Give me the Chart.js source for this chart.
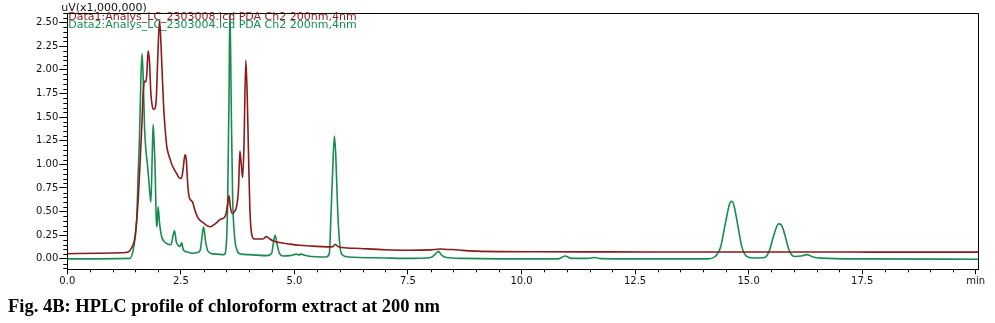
<!DOCTYPE html>
<html>
<head>
<meta charset="utf-8">
<script src="https://cdn.jsdelivr.net/npm/chart.js@4"></script>
<style>
  body { margin: 0; background: #fff; }
  #wrap { position: relative; width: 995px; height: 323px; }
  #caption {
    position: absolute; left: 8px; top: 296px;
    font: bold 18.5px "Liberation Serif", "Times New Roman", serif;
    color: #000; white-space: nowrap;
  }
</style>
</head>
<body>
<div id="wrap">
  <canvas id="hplcChart" width="995" height="300"></canvas>
  <div id="caption">Fig. 4B: HPLC profile of chloroform extract at 200 nm</div>
</div>
<script>
// Data1 trace (dark red), retention time in min / signal in uV x 1,000,000
const data1Time = [0.0, 0.7, 1.2, 1.34, 1.42, 1.49, 1.56, 1.61, 1.64, 1.67, 1.70, 1.73, 1.75, 1.78, 1.81, 1.84, 1.87,
  1.90, 1.93, 1.96, 1.99, 2.03, 2.06, 2.09, 2.12, 2.15, 2.19, 2.22, 2.26, 2.30, 2.35, 2.41, 2.46, 2.51, 2.55, 2.59,
  2.62, 2.65, 2.68, 2.72, 2.76, 2.80, 2.85, 2.90, 3.0, 3.08, 3.15, 3.22, 3.30, 3.37, 3.44, 3.49, 3.53, 3.56, 3.59,
  3.63, 3.68, 3.73, 3.77, 3.80, 3.83, 3.86, 3.89, 3.93, 3.96, 3.99, 4.02, 4.06, 4.12, 4.20, 4.30, 4.39, 4.46, 4.54,
  4.70, 4.85, 5.10, 5.40, 5.71, 5.85, 5.90, 5.96, 6.05, 6.45, 7.0, 7.5, 8.0, 8.2, 8.4, 8.5, 8.7, 9.0, 9.5, 10.4,
  12.0, 14.0, 16.0, 18.0, 20.05];
const data1Value = [0.055, 0.06, 0.065, 0.074, 0.12, 0.23, 0.62, 1.10, 1.40, 1.75, 1.88, 1.87, 1.95, 2.20, 2.08, 1.75, 1.62,
  1.58, 1.59, 1.70, 2.10, 2.52, 2.30, 1.95, 1.62, 1.40, 1.19, 1.12, 1.06, 1.00, 0.95, 0.90, 0.86, 0.85, 0.95, 1.10,
  1.05, 0.80, 0.66, 0.62, 0.60, 0.53, 0.46, 0.42, 0.38, 0.35, 0.34, 0.36, 0.39, 0.42, 0.43, 0.47, 0.58, 0.67, 0.55,
  0.48, 0.50, 0.56, 0.75, 1.14, 1.00, 0.86, 1.20, 2.10, 1.75, 1.10, 0.52, 0.26, 0.21, 0.21, 0.21, 0.235, 0.21, 0.19,
  0.17, 0.16, 0.145, 0.135, 0.127, 0.13, 0.155, 0.13, 0.12, 0.11, 0.097, 0.092, 0.095, 0.105, 0.10, 0.10, 0.09, 0.082, 0.077, 0.075,
  0.074, 0.073, 0.073, 0.072, 0.072];

// Data2 trace (green)
const data2Time = [0.0, 1.38, 1.45, 1.50, 1.53, 1.56, 1.59, 1.62, 1.645, 1.67, 1.70, 1.73, 1.76, 1.80, 1.84, 1.87, 1.89,
  1.91, 1.93, 1.96, 1.975, 2.00, 2.03, 2.07, 2.12, 2.20, 2.28, 2.33, 2.36, 2.40, 2.44, 2.48, 2.52, 2.55, 2.62, 2.75,
  2.88, 2.93, 2.97, 3.0, 3.04, 3.08, 3.15, 3.30, 3.45, 3.50, 3.53, 3.56, 3.58, 3.61, 3.64, 3.68, 3.73, 3.80, 4.0,
  4.40, 4.50, 4.54, 4.575, 4.62, 4.67, 4.75, 4.90, 5.05, 5.10, 5.13, 5.30, 5.70, 5.77, 5.80, 5.84, 5.88, 5.91, 5.95,
  5.99, 6.04, 6.2, 7.0, 7.5, 8.0, 8.10, 8.17, 8.24, 8.35, 8.7, 9.5, 10.8, 10.96, 11.1, 11.45, 11.6, 11.75, 12.5,
  14.1, 14.25, 14.38, 14.49, 14.58, 14.63, 14.68, 14.76, 14.85, 14.95, 15.10, 15.35, 15.45, 15.56, 15.66, 15.72,
  15.80, 15.90, 16.02, 16.15, 16.28, 16.42, 16.6, 17.5, 20.05];
const data2Value = [0.0, 0.005, 0.09, 0.25, 0.44, 0.90, 1.30, 1.90, 2.17, 1.93, 1.40, 1.15, 1.02, 0.80, 0.60, 1.10, 1.42,
  1.25, 1.00, 0.40, 0.34, 0.55, 0.38, 0.25, 0.19, 0.16, 0.15, 0.25, 0.30, 0.18, 0.145, 0.13, 0.17, 0.10, 0.075, 0.06,
  0.07, 0.10, 0.25, 0.34, 0.20, 0.10, 0.06, 0.05, 0.045, 0.15, 0.60, 1.70, 2.65, 1.60, 0.65, 0.25, 0.10, 0.055, 0.045,
  0.035, 0.06, 0.18, 0.25, 0.15, 0.06, 0.03, 0.035, 0.05, 0.04, 0.05, 0.03, 0.02, 0.06, 0.40, 0.90, 1.30, 1.10, 0.55,
  0.20, 0.05, 0.02, 0.01, 0.005, 0.015, 0.05, 0.08, 0.04, 0.015, 0.005, 0.0, 0.0, 0.03, 0.005, 0.005, 0.015, 0.003, 0.0,
  0.0, 0.02, 0.12, 0.38, 0.58, 0.61, 0.56, 0.36, 0.13, 0.03, 0.01, 0.015, 0.08, 0.26, 0.37, 0.36,
  0.25, 0.08, 0.025, 0.03, 0.045, 0.02, 0.008, 0.0, -0.003];

const xTickValues = [0, 2.5, 5, 7.5, 10, 12.5, 15, 17.5, 20];
const xTickLabels = ["0.0", "2.5", "5.0", "7.5", "10.0", "12.5", "15.0", "17.5", "min"];
const yTickValues = [0, 0.25, 0.5, 0.75, 1.0, 1.25, 1.5, 1.75, 2.0, 2.25, 2.5];

const legendLines = [
  { text: "Data1:Analys_LC_2303008.lcd PDA Ch2 200nm,4nm", color: "#8b1a1a" },
  { text: "Data2:Analys_LC_2303004.lcd PDA Ch2 200nm,4nm", color: "#178c50" },
];
const yUnitLabel = "uV(x1,000,000)";

const tickFont = { family: "DejaVu Sans", size: 10 };

function toPoints(times, values) {
  return times.map((t, i) => ({ x: t, y: values[i] }));
}

// minor ticks, box frame, unit label and trace labels
const decorPlugin = {
  id: "decor",
  afterDatasetsDraw(chart) {
    const { ctx, chartArea: area, scales } = chart;
    ctx.save();
    ctx.strokeStyle = "#000";
    ctx.lineWidth = 1;
    ctx.beginPath();
    // top and right edges of the frame
    ctx.moveTo(area.left, area.top + 0.5);
    ctx.lineTo(area.right + 0.5, area.top + 0.5);
    ctx.lineTo(area.right + 0.5, area.bottom);
    // minor ticks on y every 0.05
    for (let k = -2; k <= 52; k++) {
      if (k % 5 === 0) continue;
      const py = Math.round(scales.y.getPixelForValue(k * 0.05)) + 0.5;
      if (py < area.top || py > area.bottom) continue;
      ctx.moveTo(area.left - 4, py);
      ctx.lineTo(area.left, py);
    }
    // minor ticks on x every 0.5 min
    for (let k = 1; k <= 40; k++) {
      if (k % 5 === 0) continue;
      const px = Math.round(scales.x.getPixelForValue(k * 0.5)) + 0.5;
      if (px > area.right) continue;
      ctx.moveTo(px, area.bottom);
      ctx.lineTo(px, area.bottom + 3);
    }
    ctx.stroke();

    ctx.font = "11px 'DejaVu Sans'";
    ctx.textBaseline = "middle";
    ctx.textAlign = "left";
    ctx.fillStyle = "#111";
    ctx.fillText(yUnitLabel, area.left - 6, 8);
    legendLines.forEach((line, i) => {
      ctx.fillStyle = line.color;
      ctx.fillText(line.text, area.left + 1, area.top + 4 + i * 8);
    });
    ctx.restore();
  },
};

new Chart(document.getElementById("hplcChart"), {
  type: "line",
  data: {
    datasets: [
      {
        label: "Data1",
        data: toPoints(data1Time, data1Value),
        borderColor: "#8b1a1a",
        borderWidth: 1.6,
        pointRadius: 0,
        cubicInterpolationMode: "monotone",
      },
      {
        label: "Data2",
        data: toPoints(data2Time, data2Value),
        borderColor: "#178c50",
        borderWidth: 1.6,
        pointRadius: 0,
        cubicInterpolationMode: "monotone",
      },
    ],
  },
  options: {
    responsive: false,
    animation: false,
    layout: { padding: { top: 13, right: 17, left: 0, bottom: 0 } },
    plugins: {
      legend: { display: false },
      tooltip: { enabled: false },
    },
    scales: {
      x: {
        type: "linear",
        min: 0,
        max: 20.05,
        afterBuildTicks: (scale) => {
          scale.ticks = xTickValues.map((v) => ({ value: v }));
        },
        afterFit: (scale) => {
          scale.height = 30.7;
        },
        ticks: {
          autoSkip: false,
          maxRotation: 0,
          padding: 1,
          color: "#111",
          font: tickFont,
          callback: (value) => xTickLabels[xTickValues.indexOf(value)],
        },
        grid: { drawOnChartArea: false, tickLength: 5, color: "#000" },
        border: { color: "#000", width: 1 },
      },
      y: {
        min: -0.11,
        max: 2.6,
        afterBuildTicks: (scale) => {
          scale.ticks = yTickValues.map((v) => ({ value: v }));
        },
        afterFit: (scale) => {
          scale.width = 67.3;
        },
        ticks: {
          padding: 1,
          color: "#111",
          font: tickFont,
          callback: (value) => value.toFixed(2),
        },
        grid: { drawOnChartArea: false, tickLength: 8, color: "#000" },
        border: { color: "#000", width: 1 },
      },
    },
  },
  plugins: [decorPlugin],
});
</script>
</body>
</html>
